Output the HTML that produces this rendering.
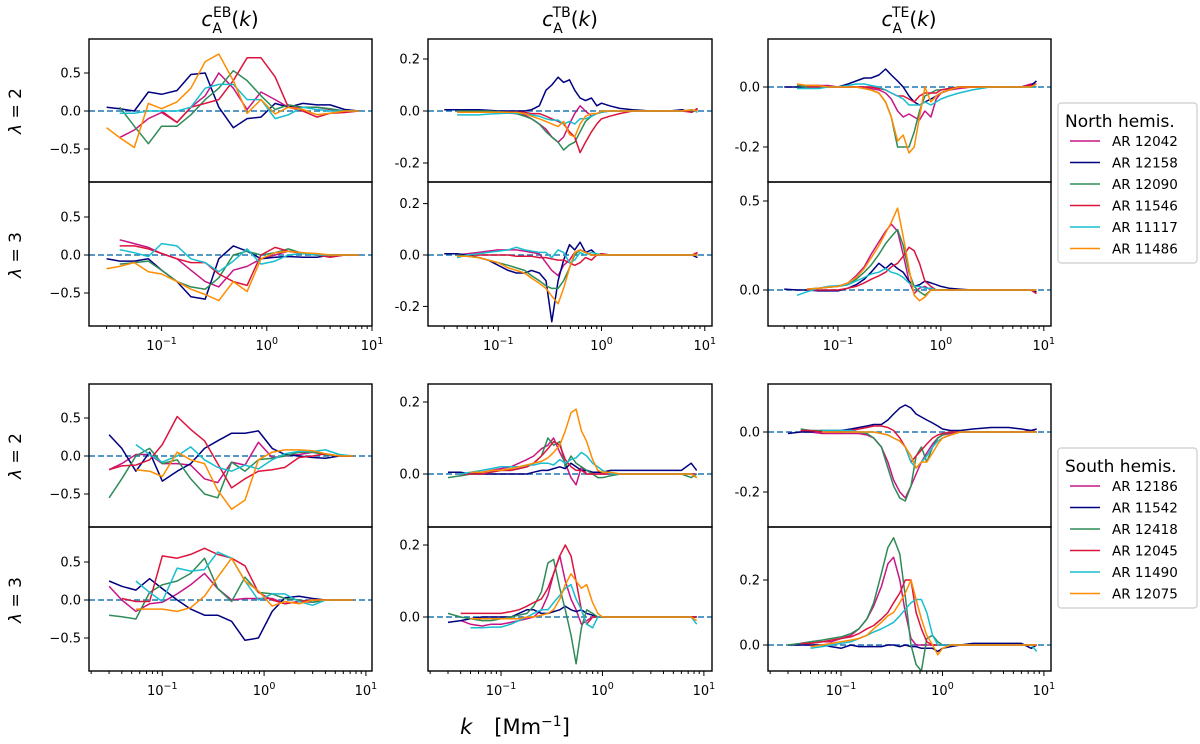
<!DOCTYPE html>
<html><head><meta charset="utf-8"><style>
html,body{margin:0;padding:0;background:#fff}
svg{display:block;font-family:"DejaVu Sans","Liberation Sans",sans-serif}
</style></head><body>
<svg id="fig" width="1200" height="744" viewBox="0 0 1200 744" xmlns="http://www.w3.org/2000/svg"></svg>
<script>
// ---------- data ----------
const kSparse = [0.03,0.04,0.055,0.075,0.1,0.14,0.19,0.26,0.35,0.48,0.65,0.88,1.2,1.6,2.2,3,4,5.5,7.5];
const kDense = [0.03,0.04,0.05,0.065,0.08,0.1,0.125,0.15,0.18,0.21,0.25,0.29,0.33,0.38,0.43,0.49,0.55,0.62,0.7,0.8,0.9,1.0,1.2,1.5,2,3,4.5,6,7.5,8.5];
const colors = ["#c71585","#000080","#2e8b57","#dc143c","#17becf","#ff8c00"];
const northNames = ["AR 12042","AR 12158","AR 12090","AR 11546","AR 11117","AR 11486"];
const southNames = ["AR 12186","AR 11542","AR 12418","AR 12045","AR 11490","AR 12075"];
const n = null;
const ebN2 = [
 [n,-0.35,-0.25,-0.1,-0.02,-0.15,0.05,0.2,0.5,0.3,0.02,0.25,0.15,0.05,0.05,0.05,0.02,0,0],
 [0.05,0.03,0.0,0.25,0.22,0.27,0.48,0.5,0.05,-0.22,-0.1,-0.08,0.1,0.05,0.1,0.08,0.08,0.02,0],
 [n,0.05,-0.2,-0.43,-0.2,-0.2,-0.05,0.15,0.3,0.53,0.4,0.2,0.02,0.08,0.05,0.05,0.03,0,0],
 [n,n,n,n,0.0,-0.15,0.05,0.1,0.15,0.4,0.7,0.7,0.45,0.05,0.0,-0.08,-0.03,-0.02,0],
 [n,-0.03,-0.03,0,0,0,0.05,0.3,0.35,0.35,0.15,0.15,-0.1,-0.05,0.05,0.02,0,0,0],
 [-0.22,-0.35,-0.48,0.1,0.03,0.12,0.3,0.65,0.75,0.4,-0.03,0.15,-0.04,0.05,0.02,-0.05,-0.03,0,0]];
const ebN3 = [
 [n,0.2,0.15,0.1,0.02,-0.05,-0.2,-0.35,-0.42,-0.2,-0.15,-0.05,0,0.05,0.02,0,-0.02,0,0],
 [-0.05,-0.08,-0.08,-0.05,-0.2,-0.35,-0.55,-0.58,-0.05,0.12,0.05,-0.05,-0.03,-0.02,-0.03,-0.03,0,0,0],
 [n,-0.12,-0.1,-0.08,-0.2,-0.35,-0.42,-0.45,-0.3,0,0.05,0,0.03,0.08,0.02,0,-0.02,0,0],
 [n,0.12,0.12,0.08,0.02,-0.05,-0.1,-0.1,-0.25,-0.35,-0.4,0,0.1,0.05,0.03,0,-0.03,0,0],
 [n,0.07,0.03,-0.02,0.15,0.12,-0.05,-0.1,-0.22,-0.08,0.08,-0.12,-0.08,0,0.02,0,0,0,0],
 [-0.18,-0.15,-0.1,-0.22,-0.25,-0.35,-0.45,-0.52,-0.6,-0.35,-0.48,-0.05,0.03,0.05,0.03,0.02,0,0,0]];
const ebS2 = [
 [-0.18,-0.1,0.02,0.02,-0.1,-0.1,-0.12,-0.3,-0.35,-0.08,-0.12,0.18,-0.02,0,0.02,0.05,0.02,0,0],
 [0.28,0.1,-0.2,0.05,-0.33,-0.2,-0.1,0.1,0.2,0.3,0.3,0.33,0.1,0.02,0,-0.02,-0.03,0,0],
 [-0.55,-0.3,0,0.1,-0.1,-0.05,-0.3,-0.5,-0.55,-0.08,-0.2,-0.05,-0.03,0,0.05,0.05,0.02,0,0],
 [-0.18,-0.13,-0.12,-0.05,0.15,0.52,0.35,0.2,-0.1,-0.42,-0.3,-0.2,-0.18,-0.15,-0.02,0,0.03,0,0],
 [n,n,0.15,0.02,-0.08,0,0.12,-0.05,-0.15,-0.2,-0.12,-0.17,-0.05,0.03,0.06,0.06,0.08,0.02,0],
 [n,n,-0.18,-0.2,-0.27,0.05,-0.05,-0.1,-0.45,-0.7,-0.58,-0.05,0.05,0.08,0.08,0.07,0.03,0,0]];
const ebS3 = [
 [0.18,0,-0.15,-0.05,-0.03,0.08,0.2,0.35,0.15,0,0.02,0.02,0.02,-0.05,-0.02,-0.03,0,0,0],
 [0.25,0.18,0.13,0.28,0.15,0.0,-0.12,-0.2,-0.2,-0.28,-0.53,-0.5,-0.15,0.03,0.05,0.02,0,0,0],
 [-0.2,-0.22,-0.25,0.1,0.2,0.25,0.35,0.55,0.15,-0.02,0.3,0.1,0.08,0.02,0,-0.03,0,0,0],
 [n,0.02,-0.02,-0.02,0.58,0.55,0.6,0.68,0.6,0.55,0.45,0.1,0,-0.05,-0.02,0,0,0,0],
 [n,n,0.25,0.1,-0.02,0.42,0.38,0.4,0.63,0.55,0.25,0,0.08,0.08,-0.02,-0.07,0,0,0],
 [n,n,-0.12,-0.12,-0.12,-0.15,-0.1,0.05,0.3,0.55,0.25,0.12,-0.08,-0.02,-0.05,0,0,0,0]];
const tbN2 = [
 [n,0,0,0,0,-0.005,-0.008,-0.01,-0.015,-0.03,-0.05,-0.07,-0.1,-0.12,-0.1,-0.05,-0.01,0.02,0,-0.02,-0.01,-0.005,0,0,0,0,0,0,0,0.005],
 [0.005,0.005,0.005,0.005,0.003,0,0,0,0,0.005,0.02,0.08,0.1,0.13,0.11,0.12,0.08,0.05,0.04,0.05,0.02,0.03,0.02,0.01,0.005,0,0,0.005,-0.005,0.01],
 [n,0,0,0,0,-0.003,-0.005,-0.01,-0.02,-0.03,-0.05,-0.08,-0.1,-0.12,-0.15,-0.13,-0.12,-0.08,-0.04,-0.02,-0.01,0,0,0,0,0,0,0,0,0],
 [n,n,-0.005,-0.005,-0.005,-0.005,-0.005,-0.005,-0.005,-0.01,-0.01,-0.02,-0.03,-0.04,-0.05,-0.08,-0.1,-0.16,-0.12,-0.08,-0.05,-0.03,-0.02,-0.01,0,0,0,0,-0.005,0.01],
 [n,-0.015,-0.015,-0.015,-0.012,-0.01,-0.008,-0.008,-0.01,-0.015,-0.02,-0.03,-0.035,-0.035,-0.05,-0.04,-0.05,-0.03,-0.03,-0.02,-0.01,-0.005,0,0,0,0,0,0,0.005,-0.005],
 [n,-0.005,-0.005,-0.005,-0.005,-0.005,-0.005,-0.005,-0.01,-0.02,-0.03,-0.04,-0.05,-0.06,-0.04,-0.09,-0.1,-0.05,-0.02,-0.01,-0.01,0,0,0,0,0,0,0,0.005,0]];
const tbN3 = [
 [n,0,0.005,0.01,0.015,0.02,0.02,0.02,0.015,0.01,0.005,-0.03,-0.06,-0.08,-0.04,-0.02,0.01,0.02,0.01,0,0,0,0,0,0,0,0,0,0,0.005],
 [0.005,0.005,0,-0.01,-0.02,-0.04,-0.06,-0.07,-0.07,-0.06,-0.07,-0.1,-0.26,-0.1,-0.02,0.04,0.02,0.05,0.01,0.02,0,0.005,0,0,0,0,0,0,0,-0.01],
 [n,0,-0.005,-0.01,-0.02,-0.03,-0.04,-0.05,-0.06,-0.08,-0.1,-0.12,-0.13,-0.13,-0.1,-0.05,0,0.02,0.01,0,0,0,0,0,0,0,0,0,0,0],
 [n,n,0,0,0,0,0,-0.005,-0.005,-0.005,-0.01,-0.01,-0.015,-0.02,-0.02,-0.03,-0.04,-0.03,-0.01,-0.02,0,0.005,0,0,0,0,0,0,0,0.01],
 [n,-0.01,0,0.005,0.01,0.015,0.02,0.03,0.02,0.015,0.01,0.01,-0.01,0.02,0.01,-0.03,-0.02,0.01,0,0.01,0.005,0,0,0,0,0,0,0,0,0],
 [n,-0.005,-0.005,-0.01,-0.02,-0.03,-0.05,-0.06,-0.07,-0.09,-0.11,-0.13,-0.16,-0.19,-0.13,-0.05,0.01,0.02,0.01,0,0,0,0,0,0,0,0,0,0,0]];
const tbS2 = [
 [n,-0.005,0,0.005,0.01,0.015,0.02,0.03,0.04,0.05,0.07,0.08,0.1,0.06,0.03,-0.01,-0.03,0.02,0,0,0,0,0,0,0,0,0,0,0,0],
 [0.005,0.005,0,0,0,0,0,0,0,0.005,0.01,0.01,0.015,0.02,0.015,0.03,0.02,0.01,0.01,0.005,0.005,0.005,0.01,0.01,0.01,0.01,0.01,0.01,0.03,0.01],
 [-0.01,-0.005,0,0,0.005,0.01,0.01,0.015,0.02,0.03,0.05,0.1,0.08,0.09,0.02,0.05,0.03,0.02,0.01,0,-0.01,-0.01,-0.005,0,0,0,0,0,-0.01,0],
 [n,0,0,0,0.005,0.01,0.01,0.015,0.02,0.03,0.05,0.07,0.09,0.08,0.04,0.02,0.01,0.01,0,0,0,0,0,0,0,0,0,0,0,-0.01],
 [n,0,0.005,0.01,0.015,0.02,0.02,0.02,0.025,0.025,0.03,0.03,0.025,0.04,0.03,0.04,0.045,0.06,0.05,0.03,0.02,0.01,0,0,0,0,0,0,0,-0.01],
 [n,n,0.005,0.005,0.01,0.01,0.015,0.02,0.025,0.03,0.035,0.045,0.06,0.08,0.12,0.17,0.18,0.12,0.09,0.04,0.01,0.005,0.005,0,0,0,0,0,0,-0.01]];
const tbS3 = [
 [n,-0.01,-0.02,-0.025,-0.02,-0.02,-0.015,-0.01,-0.005,0,0.02,0.06,0.12,0.17,0.1,0.05,0.02,-0.02,-0.01,0,0,0,0,0,0,0,0,0,0,0],
 [-0.015,-0.01,-0.005,0,0,0,0,0.01,0.02,0.02,0.01,0.01,0.015,0.02,0.03,0.02,0.015,0.02,0.01,0.005,0,0,0,0,0,0,0,0,0,0],
 [0.01,0,-0.005,-0.01,-0.01,-0.005,0,0.005,0.01,0.03,0.07,0.15,0.16,0.08,0.02,-0.05,-0.13,-0.03,0.02,0.01,0,0,0,0,0,0,0,0,0,0],
 [n,0.01,0.01,0.01,0.01,0.01,0.015,0.02,0.03,0.04,0.05,0.08,0.12,0.17,0.2,0.17,0.1,0.02,-0.02,0,0,0,0,0,0,0,0,0,0,0],
 [n,n,-0.03,-0.03,-0.028,-0.028,-0.02,-0.01,0,0.01,0.02,0.02,0.04,0.06,0.08,0.09,0.05,0.02,-0.02,-0.03,0,0,0,0,0,0,0,0,0,-0.02],
 [n,n,-0.005,-0.005,-0.005,-0.005,-0.005,-0.005,0,0,0.005,0.01,0.02,0.05,0.09,0.12,0.1,0.08,0.09,0.04,0.01,0,0,0,0,0,0,0,0,-0.01]];
const teN2 = [
 [n,0.005,0.005,0.005,0.005,0,0,0,0,-0.005,-0.01,-0.02,-0.04,-0.08,-0.1,-0.09,-0.1,-0.11,-0.08,-0.1,-0.04,-0.02,-0.01,-0.005,0,0,0,0,0.01,0.01],
 [0,0,0,0,0,0,0.01,0.02,0.03,0.03,0.04,0.06,0.04,0.02,0,-0.03,-0.05,-0.06,-0.05,-0.04,-0.03,-0.02,-0.01,0,0,0,0,0,0.005,0.02],
 [n,0.005,0,0,0,0,0,0,-0.005,-0.01,-0.02,-0.05,-0.1,-0.2,-0.2,-0.2,-0.15,-0.08,-0.03,-0.02,-0.01,-0.01,-0.005,0,0,0,0,0,0,0],
 [n,n,0,0,0,0,0,0,0,0,-0.005,-0.01,-0.02,-0.03,-0.03,-0.04,-0.05,-0.03,-0.02,-0.02,-0.02,-0.01,-0.005,0,0,0,0,0,0.005,0],
 [n,-0.005,-0.005,-0.005,0,0,0.005,0.01,0.01,0.005,0,-0.01,-0.02,-0.03,-0.04,-0.06,-0.06,-0.06,-0.05,-0.06,-0.05,-0.04,-0.03,-0.02,-0.01,0,0,0,0,0],
 [n,0.01,0.005,0.005,0,0,0,0,-0.005,-0.01,-0.02,-0.05,-0.1,-0.18,-0.16,-0.22,-0.2,-0.1,0,-0.05,-0.03,-0.02,-0.01,0,0,0,0,0,0,0.01]];
const teN3 = [
 [n,n,0.005,0.01,0.015,0.02,0.04,0.08,0.13,0.2,0.27,0.33,0.37,0.33,0.2,0.05,-0.02,0.01,0.02,0,0,0,0,0,0,0,0,0,0,0],
 [0.005,0,0,-0.005,-0.005,-0.005,0.01,0.03,0.06,0.1,0.15,0.12,0.15,0.12,0.1,0.05,0.02,0.03,0.05,0.04,0.03,0.02,0.01,0.005,0,0,0,0,0,-0.01],
 [n,n,0.005,0.01,0.015,0.02,0.03,0.06,0.1,0.14,0.2,0.26,0.3,0.34,0.25,0.1,0.02,-0.01,-0.03,0,0,0,0,0,0,0,0,0,0,0],
 [n,n,0,0,0,0,0.01,0.02,0.04,0.06,0.08,0.1,0.13,0.15,0.19,0.24,0.22,0.15,0.05,0.02,0,0,0,0,0,0,0,0,0,-0.02],
 [n,-0.03,-0.01,0.01,0.02,0.025,0.03,0.05,0.07,0.09,0.1,0.12,0.1,0.09,0.07,0.04,0.02,0.02,0.01,0.01,0,0,0,0,0,0,0,0,0,0],
 [n,n,0.005,0.01,0.015,0.02,0.04,0.07,0.12,0.18,0.25,0.32,0.38,0.46,0.3,0.12,-0.03,-0.06,-0.04,0,0,0,0,0,0,0,0,0,0,0]];
const teS2 = [
 [n,0.005,0,-0.005,-0.005,-0.005,-0.005,-0.005,-0.01,-0.02,-0.05,-0.1,-0.16,-0.2,-0.22,-0.18,-0.14,-0.1,-0.07,-0.04,-0.02,-0.01,-0.005,0,0,0,0,0,0.005,0],
 [-0.005,0,0,0.005,0.005,0.005,0.01,0.015,0.02,0.025,0.025,0.04,0.06,0.08,0.09,0.08,0.06,0.05,0.04,0.03,0.02,0.01,0.005,0.005,0.01,0.015,0.015,0.01,0.005,0.01],
 [n,0.01,0.005,0.005,0,0,0,0,-0.005,-0.02,-0.05,-0.12,-0.18,-0.22,-0.23,-0.18,-0.08,-0.05,-0.1,-0.05,-0.02,-0.01,0,0,0,0,0,0,0,0],
 [n,0.005,0.005,0,0,0,0.005,0.01,0.015,0.02,0.02,0.015,0.005,-0.02,-0.05,-0.1,-0.08,-0.06,-0.04,-0.02,-0.01,-0.005,0,0,0,0,0,0,0,0],
 [n,n,n,0.005,0.005,0.005,0.005,0,0,0,-0.005,-0.01,-0.02,-0.03,-0.05,-0.1,-0.12,-0.1,-0.08,-0.05,-0.03,-0.02,-0.01,0,0,0,0,0,0,0],
 [n,n,n,0,0,0,0,0,0,0,-0.005,-0.01,-0.02,-0.03,-0.05,-0.08,-0.12,-0.1,-0.1,-0.07,-0.04,-0.02,-0.01,0,0,0,0,0,0,0]];
const teS3 = [
 [n,0.005,0.005,0.01,0.01,0.02,0.03,0.05,0.08,0.12,0.18,0.25,0.27,0.2,0.1,0.02,0,0,0,0,0,0,0,0,0,0,0,0,0,0],
 [0,0,0,0,-0.005,-0.01,0,-0.005,-0.005,-0.005,-0.005,0,0,-0.005,0,-0.005,-0.005,-0.01,-0.01,-0.01,-0.02,-0.01,-0.005,0,0.005,0.005,0.005,0.005,-0.01,0],
 [0,0.005,0.01,0.015,0.02,0.025,0.035,0.05,0.08,0.13,0.22,0.3,0.33,0.28,0.15,0,-0.06,-0.08,0.02,0.03,0.01,0,0,0,0,0,0,0,0,0],
 [n,0.005,0.005,0.01,0.015,0.02,0.025,0.035,0.05,0.06,0.08,0.1,0.13,0.16,0.2,0.2,0.1,0.05,0.01,0,0,0,0,0,0,0,0,0,0,0],
 [n,n,-0.01,-0.005,0,0.005,0.01,0.02,0.03,0.04,0.05,0.06,0.07,0.09,0.11,0.13,0.14,0.14,0.1,0.03,0,0,0,0,0,0,0,0,0,-0.02],
 [n,n,-0.005,0,0.005,0.01,0.015,0.02,0.03,0.05,0.07,0.09,0.1,0.13,0.16,0.2,0.14,0.08,0.03,0,-0.03,-0.01,0,0,0,0,0,0,0,0]];
const tickEB = [0.5,0,-0.5], tickEBlab = ["0.5","0.0","\u22120.5"];
const tickTB = [0.2,0,-0.2], tickTBlab = ["0.2","0.0","-0.2"];
const tickTB2 = [0.2,0], tickTB2lab = ["0.2","0.0"];
const tickTE = [0,-0.2], tickTElab = ["0.0","-0.2"];
const tickTE3 = [0.5,0], tickTE3lab = ["0.5","0.0"];

// ---------- layout ----------
const NS="http://www.w3.org/2000/svg";
const svg=document.getElementById('fig');
function el(tag,attrs,parent){const e=document.createElementNS(NS,tag);for(const k in attrs)e.setAttribute(k,attrs[k]);(parent||svg).appendChild(e);return e;}
const cols=[{x0:89,x1:372,tl:-1.69,th:1.0,bl:-1.72,bh:1.06},{x0:428,x1:712,tl:-1.68,th:1.07,bl:-1.72,bh:1.08},{x0:768,x1:1051,tl:-1.68,th:1.07,bl:-1.72,bh:1.07}];
const panels=[
 {name:'eb-north-l2',c:0,t:39,b:182,y0:111,s:76,d:ebN2,k:kSparse,tk:tickEB,tl:tickEBlab,g:'t'},
 {name:'eb-north-l3',c:0,t:182,b:326,y0:255,s:76,d:ebN3,k:kSparse,tk:tickEB,tl:tickEBlab,g:'t',xl:1},
 {name:'eb-south-l2',c:0,t:384,b:527,y0:456,s:76,d:ebS2,k:kSparse,tk:tickEB,tl:tickEBlab,g:'b'},
 {name:'eb-south-l3',c:0,t:527,b:671,y0:600,s:76,d:ebS3,k:kSparse,tk:tickEB,tl:tickEBlab,g:'b',xl:1},
 {name:'tb-north-l2',c:1,t:39,b:182,y0:111,s:260,d:tbN2,k:kDense,tk:tickTB,tl:tickTBlab,g:'t'},
 {name:'tb-north-l3',c:1,t:182,b:326,y0:255,s:257,d:tbN3,k:kDense,tk:tickTB,tl:tickTBlab,g:'t',xl:1},
 {name:'tb-south-l2',c:1,t:384,b:527,y0:474,s:360,d:tbS2,k:kDense,tk:tickTB2,tl:tickTB2lab,g:'b'},
 {name:'tb-south-l3',c:1,t:527,b:671,y0:617,s:360,d:tbS3,k:kDense,tk:tickTB2,tl:tickTB2lab,g:'b',xl:1},
 {name:'te-north-l2',c:2,t:39,b:182,y0:87,s:300,d:teN2,k:kDense,tk:tickTE,tl:tickTElab,g:'t'},
 {name:'te-north-l3',c:2,t:182,b:326,y0:290,s:178,d:teN3,k:kDense,tk:tickTE3,tl:tickTE3lab,g:'t',xl:1},
 {name:'te-south-l2',c:2,t:384,b:527,y0:432,s:300,d:teS2,k:kDense,tk:tickTE,tl:tickTElab,g:'b'},
 {name:'te-south-l3',c:2,t:527,b:671,y0:645,s:325,d:teS3,k:kDense,tk:tickTB2,tl:tickTB2lab,g:'b',xl:1}];

panels.forEach(p=>{
 const C=cols[p.c];const lo=p.g==='t'?C.tl:C.bl, hi=p.g==='t'?C.th:C.bh;
 const xs=k=>C.x0+(Math.log10(k)-lo)/(hi-lo)*(C.x1-C.x0);
 const ys=v=>p.y0-v*p.s;
 const g=el('g',{});
 
 
 const cid='clip-'+p.name;
 const cp=el('clipPath',{id:cid},g);el('rect',{x:C.x0,y:p.t,width:C.x1-C.x0,height:p.b-p.t},cp);
 const zl=el('line',{x1:C.x0,x2:C.x1,y1:ys(0),y2:ys(0),stroke:'#1f77b4','stroke-width':1.5,'stroke-dasharray':'6,3'},g);
 
 
 p.d.forEach((ser,i)=>{
  let dstr='';let started=false;
  ser.forEach((v,j)=>{if(v===null)return;dstr+=(started?'L':'M')+xs(p.k[j]).toFixed(1)+','+ys(v).toFixed(1);started=true;});
  const path=el('path',{d:dstr,fill:'none',stroke:colors[i],'stroke-width':1.5,'stroke-linejoin':'round','clip-path':'url(#'+cid+')'},g);
  
  
 });
 el('rect',{x:C.x0,y:p.t,width:C.x1-C.x0,height:p.b-p.t,fill:'none',stroke:'#000','stroke-width':1.4},g);
 p.tk.forEach((v,i)=>{
  const y=ys(v);
  el('line',{x1:C.x0-5,x2:C.x0,y1:y,y2:y,stroke:'#000','stroke-width':1},g);
  const t=el('text',{x:C.x0-8,y:y+4.5,'text-anchor':'end','font-size':13},g);t.textContent=p.tl[i];
  
  
 });
 if(p.xl){
  for(let e=-2;e<=1;e++){for(let m=1;m<=9;m++){
   const lv=e+Math.log10(m);if(lv<lo-1e-6||lv>hi+1e-6)continue;
   const x=xs(Math.pow(10,lv));
   el('line',{x1:x,x2:x,y1:p.b,y2:p.b+(m===1?5:3),stroke:'#000','stroke-width':1},g);
   if(m===1){const t=el('text',{x:x,y:p.b+24,'text-anchor':'middle','font-size':13},g);
    t.innerHTML='10<tspan dy="-6" font-size="9.5">'+(e<0?'\u2212':'')+Math.abs(e)+'</tspan>';
    
    }
  }}
 }
});
// titles
[['EB',230],['TB',570],['TE',909]].forEach(([s,x])=>{
 const t=el('text',{x:x,y:26,'text-anchor':'middle','font-size':20});
 t.innerHTML='<tspan font-style="italic">c</tspan><tspan dy="7" font-size="14">A</tspan><tspan dx="-9" dy="-16" font-size="14">'+s+'</tspan><tspan dy="9">(</tspan><tspan font-style="italic">k</tspan>)';
 
 
});
// row labels
[[111,'2'],[255,'3'],[456,'2'],[600,'3']].forEach(([y,l])=>{
 const t=el('text',{x:0,y:0,'text-anchor':'middle','font-size':17,transform:'translate(21,'+y+') rotate(-90)'});
 t.innerHTML='<tspan font-style="italic">\u03bb</tspan> = '+l;
 
 
});
// x label
const xl=el('text',{x:515,y:734,'text-anchor':'middle','font-size':21});
xl.innerHTML='<tspan font-style="italic">k</tspan><tspan dx="22">[Mm</tspan><tspan dy="-8" font-size="14">\u22121</tspan><tspan dy="8">]</tspan>';


// legends
function legend(y0,title,names,nm){
 const g=el('g',{});
 
 
 el('rect',{x:1058,y:y0,width:139,height:160,rx:3,fill:'#fff',stroke:'#ccc','stroke-width':1.2},g);
 const t=el('text',{x:1065,y:y0+24,'font-size':17},g);t.textContent=title;
 names.forEach((nmv,i)=>{
  const y=y0+38+i*21.5;
  el('line',{x1:1070,x2:1100,y1:y,y2:y,stroke:colors[i],'stroke-width':1.5},g);
  const tx=el('text',{x:1112,y:y+5,'font-size':13.5},g);tx.textContent=nmv;
  
  
 });
}
legend(103,'North hemis.',northNames,'legend-north');
legend(448,'South hemis.',southNames,'legend-south');
</script>
</body></html>
